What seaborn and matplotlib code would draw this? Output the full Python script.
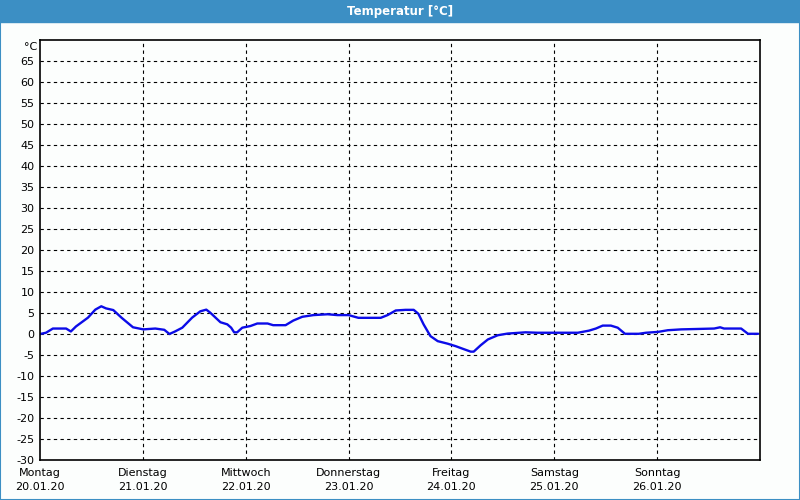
import matplotlib
matplotlib.use("Agg")
import matplotlib.pyplot as plt
import matplotlib.patches as mpatches
import seaborn as sns
import pandas as pd

# Data: hours since Monday 00:00 and temperature (°C)
hours = [0, 1.4, 3.0, 6.1, 7.2, 8.4, 11.2, 12.9, 14.3, 15.4, 17.1, 19.0, 21.7, 24.1,
         26.9, 29.0, 30.2, 31.5, 33.2, 35.5, 37.4, 38.8, 39.7, 42.1, 43.7, 44.6, 45.3,
         46.0, 47.2, 49.1, 50.7, 53.1, 54.4, 57.3, 59.1, 61.2, 63.8, 67.1, 69.4, 72.0,
         74.3, 79.5, 81.1, 83.0, 85.3, 87.2, 88.3, 89.5, 91.1, 92.8, 95.1, 97.0, 98.6,
         100.5, 101.2, 102.8, 104.5, 106.8, 109.1, 113.3, 116.1, 125.5, 128.1, 129.7,
         131.3, 133.2, 134.8, 136.5, 139.7, 141.4, 144.2, 146.5, 149.6, 153.5, 157.3,
         158.7, 159.6, 163.6, 165.2, 167.6]
temps = [0.0, 0.3, 1.3, 1.3, 0.6, 1.8, 3.9, 5.8, 6.6, 6.1, 5.7, 3.9, 1.6, 1.1,
         1.3, 1.0, 0.0, 0.6, 1.5, 3.9, 5.4, 5.8, 5.1, 2.8, 2.3, 1.5, 0.4,
         0.4, 1.5, 1.9, 2.5, 2.5, 2.1, 2.1, 3.2, 4.1, 4.5, 4.7, 4.5, 4.5,
         3.85, 3.85, 4.5, 5.6, 5.75, 5.75, 4.8, 2.3, -0.5, -1.7, -2.3, -2.9, -3.5,
         -4.2, -4.2, -2.7, -1.3, -0.3, 0.1, 0.4, 0.3, 0.3, 0.8, 1.3,
         2.0, 2.0, 1.5, 0.05, 0.05, 0.3, 0.5, 0.9, 1.1, 1.2, 1.3,
         1.6, 1.3, 1.3, 0.05, 0.05]

day_names = ["Montag", "Dienstag", "Mittwoch", "Donnerstag", "Freitag", "Samstag", "Sonntag"]
day_dates = ["20.01.20", "21.01.20", "22.01.20", "23.01.20", "24.01.20", "25.01.20", "26.01.20"]
day_ticks = [0, 24, 48, 72, 96, 120, 144]
y_ticks = list(range(-30, 70, 5))

title = "Temperatur [°C]"

sns.set_style("white")
plt.rcParams["font.family"] = ["DejaVu Sans"]
plt.rcParams["text.color"] = "black"
plt.rcParams["xtick.color"] = "black"
plt.rcParams["ytick.color"] = "black"

fig = plt.figure(figsize=(8, 5), dpi=100, facecolor="#fcfefd")
ax = fig.add_axes([40 / 800, 1 - 460 / 500, 720 / 800, 420 / 500])
ax.set_facecolor("#fcfefd")

df = pd.DataFrame({"h": hours, "t": temps})
sns.lineplot(data=df, x="h", y="t", ax=ax, color="#0c0ce8", linewidth=1.7)

ax.set_xlim(0, 168)
ax.set_ylim(-30, 70)
ax.set_xticks(day_ticks)
ax.set_xticklabels([f"{n}\n{d}" for n, d in zip(day_names, day_dates)],
                   fontsize=8, linespacing=1.5)
ax.set_yticks(y_ticks)
ax.set_yticklabels([str(v) for v in y_ticks], fontsize=8)
ax.tick_params(axis="both", length=0, pad=4, colors="black")
ax.tick_params(axis="x", pad=6)
ax.set_xlabel("")
ax.set_ylabel("")

for v in y_ticks[1:]:
    ax.axhline(v, color="black", linewidth=0.8, linestyle=(0, (3, 3)), zorder=0)
for d in day_ticks[1:]:
    ax.axvline(d, color="black", linewidth=0.8, linestyle=(0, (3, 3)), zorder=0)

for s in ax.spines.values():
    s.set_visible(True)
    s.set_color("black")
    s.set_linewidth(1.2)

ax.text(-0.6, 68.3, "°C", ha="right", va="center", fontsize=8, color="black")

# Title bar and frame
fig.patches.append(mpatches.Rectangle((0, 1 - 22 / 500), 1, 22 / 500,
                                      transform=fig.transFigure, color="#3c8fc4", zorder=0))
fig.patches.append(mpatches.Rectangle((0.0006, 0.001), 0.9988, 0.998, transform=fig.transFigure,
                                      fill=False, edgecolor="#3c8fc4", linewidth=1.5))
fig.text(0.5, 1 - 11 / 500, title, color="white", fontsize=8.5, fontweight="bold",
         ha="center", va="center")

fig.savefig("out.png", dpi=100, facecolor=fig.get_facecolor())
